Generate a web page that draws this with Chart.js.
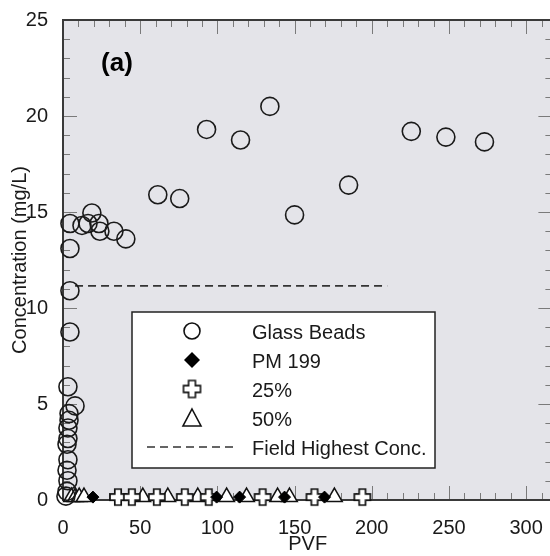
<!DOCTYPE html>
<html>
<head>
<meta charset="utf-8">
<script src="https://cdn.jsdelivr.net/npm/chart.js@4.4.1/dist/chart.umd.min.js"></script>
<style>
  body { margin: 0; background: #fff; overflow: hidden; }
</style>
</head>
<body>
<canvas id="pvfChart" width="563" height="556"></canvas>
<script>
const glassPVF = [1.9, 2.6, 3.2, 2.6, 3.2, 2.6, 3.2, 3.2, 3.9, 3.9, 7.8, 3.2,
  4.5, 4.5, 4.5, 4.5, 12.3, 16.2, 18.7, 23.3, 23.9, 33, 40.7,
  61.4, 75.6, 93, 115, 134, 150, 185, 225.6, 248, 273];
const glassConc = [0.2, 0.45, 1.0, 1.55, 2.1, 2.9, 3.2, 3.75, 4.15, 4.5, 4.9, 5.9,
  8.75, 10.9, 13.1, 14.4, 14.3, 14.4, 14.95, 14.4, 14.0, 14.0, 13.6,
  15.9, 15.7, 19.3, 18.75, 20.5, 14.85, 16.4, 19.2, 18.9, 18.65];

const pm199PVF = [19.4, 99.5, 114.4, 143.5, 169.4];
const pm199Conc = [0.15, 0.15, 0.15, 0.15, 0.15];

const mix25PVF = [35.6, 44.6, 60.8, 78.9, 94.4, 129.3, 162.9, 193.9];
const mix25Conc = [0.15, 0.15, 0.15, 0.15, 0.15, 0.15, 0.15, 0.15];

const mix50PVF = [5.5, 8, 10.5, 13.6, 51.7, 67.9, 87.3, 106, 118.9, 139, 146.7, 175.8];
const mix50Conc = [0.15, 0.15, 0.15, 0.15, 0.15, 0.15, 0.15, 0.15, 0.15, 0.15, 0.15, 0.15];

const fieldPVF = [7.8, 210];
const fieldConc = [11.15, 11.15];

const xTicks = [0, 50, 100, 150, 200, 250, 300];
const yTicks = [0, 5, 10, 15, 20, 25];

const family = '"Liberation Sans", Arial, Helvetica, sans-serif';
const ink = '#1a1a1a';

function pts(xs, ys) {
  return xs.map((x, i) => ({ x: x, y: ys[i] }));
}

// outlined fat plus used as point style
function makePlus(size, lw) {
  const c = document.createElement('canvas');
  c.width = c.height = size + 4;
  const g = c.getContext('2d');
  const m = (size + 4) / 2, h = size / 2, t = size * 0.2;
  g.beginPath();
  g.moveTo(m - t, m - h); g.lineTo(m + t, m - h); g.lineTo(m + t, m - t);
  g.lineTo(m + h, m - t); g.lineTo(m + h, m + t); g.lineTo(m + t, m + t);
  g.lineTo(m + t, m + h); g.lineTo(m - t, m + h); g.lineTo(m - t, m + t);
  g.lineTo(m - h, m + t); g.lineTo(m - h, m - t); g.lineTo(m - t, m - t);
  g.closePath();
  g.fillStyle = '#fff';
  g.fill();
  g.lineWidth = lw;
  g.strokeStyle = '#111';
  g.stroke();
  return c;
}
const plusSmall = makePlus(16, 1.7);
const plusBig = makePlus(17, 1.6);

const frame = {
  id: 'frame',
  beforeDraw(chart) {
    const { ctx, chartArea: a } = chart;
    ctx.save();
    ctx.fillStyle = '#e4e4e9';
    ctx.fillRect(a.left, a.top, a.right - a.left, a.bottom - a.top);
    ctx.restore();
  },
  beforeDatasetsDraw(chart) {
    const { ctx, chartArea: a, scales } = chart;
    ctx.save();
    ctx.strokeStyle = '#7a7a7a';
    ctx.lineWidth = 1;
    ctx.beginPath();
    for (let v = 0; v <= scales.x.max; v += 10) {
      const px = Math.round(scales.x.getPixelForValue(v)) + 0.5;
      const len = v % 50 === 0 ? 14 : 7;
      ctx.moveTo(px, a.bottom); ctx.lineTo(px, a.bottom - len);
      ctx.moveTo(px, a.top); ctx.lineTo(px, a.top + len);
    }
    for (let v = 0; v <= scales.y.max; v += 1) {
      const py = Math.round(scales.y.getPixelForValue(v)) + 0.5;
      const len = v % 5 === 0 ? 14 : 7;
      ctx.moveTo(a.left, py); ctx.lineTo(a.left + len, py);
      ctx.moveTo(a.right, py); ctx.lineTo(a.right - len, py);
    }
    ctx.stroke();
    ctx.strokeStyle = '#3a3a3a';
    ctx.lineWidth = 2;
    ctx.strokeRect(a.left, a.top, a.right - a.left, a.bottom - a.top);
    ctx.restore();
  },
  afterDraw(chart) {
    const ctx = chart.ctx;
    ctx.save();
    // panel letter
    ctx.fillStyle = '#000';
    ctx.font = 'bold 26px ' + family;
    ctx.textAlign = 'center';
    ctx.textBaseline = 'middle';
    ctx.fillText('(a)', 117, 64);

    // legend box
    ctx.fillStyle = '#fff';
    ctx.fillRect(132, 312, 303, 156);
    ctx.strokeStyle = '#222';
    ctx.lineWidth = 1.5;
    ctx.strokeRect(132, 312, 303, 156);

    const sx = 192;
    const rows = [331, 360, 389, 418, 447];
    // circle
    ctx.beginPath();
    ctx.arc(sx, rows[0], 8, 0, Math.PI * 2);
    ctx.strokeStyle = '#111';
    ctx.lineWidth = 1.6;
    ctx.stroke();
    // diamond
    ctx.beginPath();
    ctx.moveTo(sx, rows[1] - 8); ctx.lineTo(sx + 8, rows[1]);
    ctx.lineTo(sx, rows[1] + 8); ctx.lineTo(sx - 8, rows[1]);
    ctx.closePath();
    ctx.fillStyle = '#000';
    ctx.fill();
    // plus
    ctx.drawImage(plusBig, sx - plusBig.width / 2, rows[2] - plusBig.height / 2);
    // triangle
    ctx.beginPath();
    ctx.moveTo(sx, rows[3] - 9); ctx.lineTo(sx + 9, rows[3] + 8); ctx.lineTo(sx - 9, rows[3] + 8);
    ctx.closePath();
    ctx.fillStyle = '#fff';
    ctx.fill();
    ctx.lineWidth = 1.6;
    ctx.stroke();
    // dashed line
    ctx.beginPath();
    ctx.setLineDash([8, 5]);
    ctx.lineWidth = 1.6;
    ctx.strokeStyle = '#333';
    ctx.moveTo(147, rows[4]); ctx.lineTo(238, rows[4]);
    ctx.stroke();
    ctx.setLineDash([]);

    ctx.fillStyle = ink;
    ctx.font = '20px ' + family;
    ctx.textAlign = 'left';
    const names = chart.data.datasets.map(d => d.label);
    const order = [0, 2, 3, 4, 1];
    order.forEach((di, i) => {
      ctx.fillText(names[di], 252, rows[i] + 2);
    });
    ctx.restore();
  }
};

new Chart(document.getElementById('pvfChart'), {
  type: 'scatter',
  data: {
    datasets: [
      {
        label: 'Glass Beads',
        data: pts(glassPVF, glassConc),
        pointStyle: 'circle',
        pointRadius: 9,
        backgroundColor: 'rgba(0,0,0,0)',
        borderColor: '#1a1a1a',
        borderWidth: 1.6,
        clip: false
      },
      {
        label: 'Field Highest Conc.',
        type: 'line',
        data: pts(fieldPVF, fieldConc),
        borderColor: '#333',
        borderWidth: 1.6,
        borderDash: [8, 5],
        pointRadius: 0,
        fill: false
      },
      {
        label: 'PM 199',
        data: pts(pm199PVF, pm199Conc),
        pointStyle: 'rectRot',
        pointRadius: 6,
        backgroundColor: '#000',
        borderColor: '#000',
        borderWidth: 1,
        clip: false
      },
      {
        label: '25%',
        data: pts(mix25PVF, mix25Conc),
        pointStyle: plusSmall,
        pointRadius: 8,
        clip: false
      },
      {
        label: '50%',
        data: pts(mix50PVF, mix50Conc),
        pointStyle: 'triangle',
        pointRadius: 9,
        backgroundColor: '#fff',
        borderColor: '#111',
        borderWidth: 1.5,
        clip: false
      }
    ]
  },
  options: {
    responsive: false,
    animation: false,
    layout: { padding: { top: 20, right: 2, left: 0, bottom: 0 } },
    plugins: {
      legend: { display: false },
      tooltip: { enabled: false }
    },
    scales: {
      x: {
        type: 'linear',
        min: 0,
        max: 317,
        grid: { display: false },
        border: { display: false },
        afterBuildTicks: s => { s.ticks = xTicks.map(v => ({ value: v })); },
        afterFit: s => { s.height = 56; },
        ticks: { font: { size: 20, family: family }, color: ink, padding: 8, maxRotation: 0 },
        title: { display: true, text: 'PVF', color: ink, font: { size: 20, family: family }, padding: 0 }
      },
      y: {
        type: 'linear',
        min: 0,
        max: 25,
        grid: { display: false },
        border: { display: false },
        afterBuildTicks: s => { s.ticks = yTicks.map(v => ({ value: v })); },
        afterFit: s => { s.width = 63; },
        ticks: { font: { size: 20, family: family }, color: ink, padding: 7 },
        title: { display: true, text: 'Concentration (mg/L)', color: ink, font: { size: 20, family: family }, padding: { top: 8, bottom: 0 } }
      }
    }
  },
  plugins: [frame]
});
</script>
</body>
</html>
